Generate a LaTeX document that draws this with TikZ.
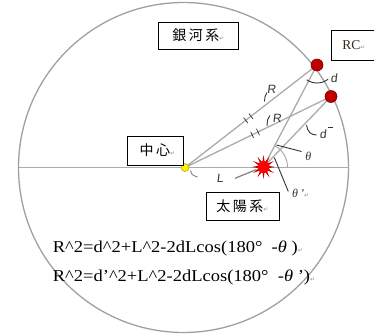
\documentclass[tikz,border=0pt]{standalone}
\usepackage{fontspec}
\setmainfont{Liberation Serif}
\newfontfamily\cjk{Noto Sans CJK JP}
\newfontfamily\symf{DejaVu Sans}
\newfontfamily\hand[FakeSlant=0.12]{Liberation Sans}
\newfontfamily\formfont[FakeStretch=1.115]{Liberation Serif}
\usetikzlibrary{calc}
\definecolor{circgray}{HTML}{A0A0A0}
\definecolor{linegray}{HTML}{ABABAB}
\definecolor{ink}{HTML}{333333}
\definecolor{rcred}{HTML}{C00000}
\definecolor{rcedge}{HTML}{7A0000}
\definecolor{sunred}{HTML}{FF0000}
\definecolor{spikered}{HTML}{C00000}
\definecolor{retgray}{HTML}{909090}
\definecolor{rctext}{HTML}{3A2A1A}
\newcommand{\retmark}{{\symf\fontsize{6}{6}\selectfont\textcolor{retgray}{↵}}}
\newcommand{\cjkgap}{\kern2.5pt}
\begin{document}
\begin{tikzpicture}[x=1pt,y=-1pt,
  circ/.style={draw=circgray,line width=1.3pt},
  ray/.style={draw=linegray,line width=1.3pt},
  leader/.style={draw=ink,line width=0.9pt},
  labelbox/.style={draw=black,line width=0.9pt,fill=white,rectangle,inner sep=0pt,text=black,font=\cjk\fontsize{14}{14}\selectfont},
  rcdot/.style={circle,fill=rcred,draw=rcedge,line width=0.6pt,minimum size=12pt,inner sep=0pt},
  cdot/.style={circle,fill=yellow,draw=olive!70,line width=0.6pt,minimum size=8pt,inner sep=0pt},
  sundot/.style={circle,fill=sunred,minimum size=12pt,inner sep=0pt},
  handlbl/.style={inner sep=0pt,text=ink,font=\hand\fontsize{12}{12}\selectfont},
  thlbl/.style={inner sep=0pt,text=ink,font=\itshape\fontsize{12}{12}\selectfont},
  formula/.style={anchor=base west,inner sep=0pt,font=\formfont\fontsize{16.6}{16.6}\selectfont}
]
\useasboundingbox (0,0) rectangle (374,333);
% key points
\coordinate (ctr) at (183.5,167.5);
\coordinate (o) at (185,167.5);
\coordinate (s) at (263.5,167);
\coordinate (p1) at (317,65);
\coordinate (p2) at (331,96.5);
\coordinate (lft) at (18.5,167.5);
\coordinate (rgt) at (348.5,167.5);
% galaxy circle and diameter
\draw[circ] (ctr) circle[radius=165];
\draw[ray] (lft) -- (rgt);
% rays
\draw[ray] (o) -- (p1);
\draw[ray] (o) -- (p2);
\draw[ray] (s) -- (p1);
\draw[ray] (s) -- (p2);
% equal marks
\foreach \t in {0.46,0.50} {
  \draw[leader,line width=0.7pt] ($(o)!\t!(p1)!3.5pt!90:(p1)$) -- ($(o)!\t!(p1)!3.5pt!-90:(p1)$);
  \draw[leader,line width=0.7pt] ($(o)!\t!(p2)!3.5pt!90:(p2)$) -- ($(o)!\t!(p2)!3.5pt!-90:(p2)$);
}
% R labels
\draw[leader] (267,92.5) .. controls (265,96) .. (264.5,101.5);
\node[handlbl] (r1) at (271.5,89.5) {R};
\draw[leader] (270,115.5) .. controls (267.5,119) .. (267,126);
\node[handlbl] (r2) at (277,118) {R};
% d labels
\draw[leader] ($(p1)+(125:18)$) arc[start angle=125,end angle=52,radius=18];
\node[handlbl] (d1) at (334,78) {d};
\coordinate (dq1) at (306.5,125);
\coordinate (dq2) at (316.5,135);
\draw[leader] (dq1) .. controls (307.5,132) and (311,135) .. (dq2);
\node[handlbl] (d2) at (323,134.5) {d};
\coordinate (db1) at (327.5,127.5);
\coordinate (db2) at (333,127.5);
\draw[leader] (db1) -- (db2);
% theta
\draw[ray,line width=1pt] ($(s)+(0:24)$) arc[start angle=0,end angle=-61,radius=24];
\coordinate (t1) at (276.5,145);
\coordinate (t2) at (301.5,151.5);
\draw[leader] (t1) -- (t2);
\node[thlbl] (th) at (308.3,156.5) {θ};
\coordinate (u1) at (274.3,157.5);
\coordinate (u2) at (288.3,191.5);
\draw[leader] (u1) -- (u2);
\node[thlbl,anchor=west] (thp) at (292,193.5) {θ\,’\retmark};
% L label
\coordinate (l1) at (190.5,170.5);
\coordinate (l2) at (197.5,177);
\draw[leader,draw=gray] (l1) .. controls (192,175) .. (l2);
\node[handlbl] (lbl) at (220,178) {L};
\coordinate (l3) at (235,178.3);
\coordinate (l4) at (256.5,169.5);
\draw[leader,draw=gray,line width=1.2pt] (l3) -- (l4);
% sun
\foreach \a in {0,30,...,330}
  \fill[spikered] ($(s)+(\a-13:5)$) -- ($(s)+(\a:12)$) -- ($(s)+(\a+13:5)$) -- cycle;
\node[sundot] (sun) at (s) {};
% dots
\node[cdot] (centre) at (o) {};
\node[rcdot] (rc1) at (p1) {};
\node[rcdot] (rc2) at (p2) {};
% boxes
\node[labelbox,minimum width=80pt,minimum height=27pt] (gal) at (198.5,35.5) {銀\cjkgap 河\cjkgap 系\retmark};
\node[labelbox,minimum width=46pt,minimum height=30pt,text=rctext,font=\fontsize{13.5}{13.5}\selectfont] (rcb) at (354,45) {RC\retmark};
\node[labelbox,minimum width=56pt,minimum height=29pt] (chu) at (155,150.5) {\hspace{5pt}中\cjkgap 心\retmark};
\node[labelbox,minimum width=73pt,minimum height=28pt] (sol) at (242.5,206.5) {太\cjkgap 陽\cjkgap 系\retmark};
% formulas
\node[formula] (f1) at (52.7,252.7) {R\textasciicircum{}2=d\textasciicircum{}2+L\textasciicircum{}2-2dLcos(180°~~-{\itshape θ} )\retmark};
\node[formula] (f2) at (52.7,281) {R\textasciicircum{}2=d’\textasciicircum{}2+L\textasciicircum{}2-2dLcos(180°~~-{\itshape θ} ’)\retmark};
\end{tikzpicture}
\end{document}
